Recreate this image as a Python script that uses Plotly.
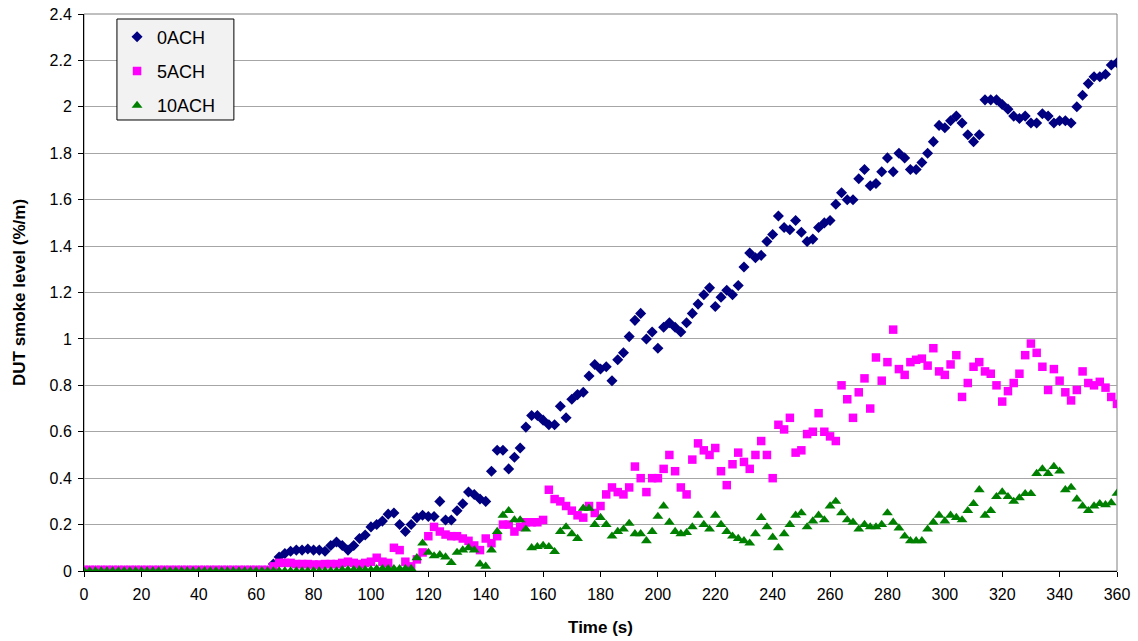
import plotly.graph_objects as go

# time axis (s), sampled every 2 s
time_s = list(range(0, 361, 2))

ach0 = [0.0, 0.0, 0.0, 0.0, 0.0, 0.0, 0.0, 0.0, 0.0, 0.0, 0.0,
        0.0, 0.0, 0.0, 0.0, 0.0, 0.0, 0.0, 0.0, 0.0, 0.0, 0.0,
        0.0, 0.0, 0.0, 0.0, 0.0, 0.0, 0.0, 0.0, 0.0, 0.0, 0.0,
        0.03, 0.06, 0.075, 0.085, 0.09, 0.09, 0.095, 0.09, 0.09, 0.085,
        0.11, 0.125, 0.11, 0.09, 0.11, 0.14, 0.155, 0.19, 0.2, 0.215,
        0.245, 0.25, 0.2, 0.17, 0.2, 0.23, 0.24, 0.235, 0.235, 0.3,
        0.22, 0.22, 0.26, 0.29, 0.34, 0.33, 0.31, 0.30, 0.43, 0.52,
        0.52, 0.44, 0.49, 0.53, 0.62, 0.67, 0.67, 0.65, 0.63, 0.63,
        0.71, 0.66, 0.74, 0.76, 0.77, 0.84, 0.89, 0.87, 0.88, 0.82,
        0.91, 0.94, 1.01, 1.08, 1.11, 1.0, 1.03, 0.96, 1.05, 1.07,
        1.05, 1.03, 1.07, 1.11, 1.15, 1.19, 1.22, 1.14, 1.18, 1.21,
        1.19, 1.23, 1.31, 1.37, 1.35, 1.36, 1.42, 1.45, 1.53, 1.48,
        1.47, 1.51, 1.46, 1.42, 1.43, 1.48, 1.5, 1.51, 1.58, 1.63,
        1.6, 1.6, 1.69, 1.73, 1.66, 1.67, 1.72, 1.78, 1.72, 1.8,
        1.78, 1.73, 1.73, 1.76, 1.8, 1.85, 1.92, 1.91, 1.94, 1.96,
        1.93, 1.88, 1.85, 1.88, 2.03, 2.03, 2.03, 2.01, 1.99, 1.96,
        1.95, 1.96, 1.93, 1.93, 1.97, 1.96, 1.93, 1.94, 1.94, 1.93,
        2.0, 2.05, 2.1, 2.13, 2.13, 2.14, 2.18, 2.19]

ach5 = [0.005, 0.005, 0.005, 0.005, 0.005, 0.005, 0.005, 0.005, 0.005, 0.005, 0.005,
        0.005, 0.005, 0.005, 0.005, 0.005, 0.005, 0.005, 0.005, 0.005, 0.005, 0.005,
        0.005, 0.005, 0.005, 0.005, 0.005, 0.005, 0.005, 0.005, 0.005, 0.005, 0.005,
        0.02, 0.035, 0.035, 0.035, 0.03, 0.03, 0.03, 0.028, 0.028, 0.03,
        0.03, 0.03, 0.035, 0.04, 0.035, 0.03, 0.035, 0.04, 0.057, 0.04,
        0.035, 0.1, 0.09, 0.04, 0.02, 0.05, 0.08, 0.15, 0.19, 0.17,
        0.157, 0.15, 0.15, 0.14, 0.13, 0.11, 0.09, 0.14, 0.12, 0.15,
        0.2, 0.2, 0.17, 0.19, 0.21, 0.21, 0.21, 0.22, 0.35, 0.31,
        0.30, 0.28, 0.26, 0.24, 0.23, 0.28, 0.25, 0.28, 0.33, 0.36,
        0.34, 0.33, 0.36, 0.45, 0.40, 0.34, 0.40, 0.40, 0.44, 0.50,
        0.43, 0.36, 0.33, 0.48, 0.55, 0.52, 0.50, 0.53, 0.43, 0.37,
        0.46, 0.51, 0.47, 0.44, 0.5, 0.56, 0.5, 0.40, 0.63, 0.61,
        0.66, 0.51, 0.52, 0.59, 0.6, 0.68, 0.60, 0.58, 0.56, 0.8,
        0.74, 0.66, 0.77, 0.83, 0.7, 0.92, 0.82, 0.90, 1.04, 0.87,
        0.845, 0.9, 0.91, 0.915, 0.885, 0.96, 0.86, 0.845, 0.89, 0.93,
        0.75, 0.81, 0.88, 0.9, 0.86, 0.85, 0.8, 0.73, 0.775, 0.81,
        0.85, 0.93, 0.98, 0.94, 0.88, 0.78, 0.87, 0.82, 0.77, 0.735,
        0.78, 0.86, 0.81, 0.80, 0.815, 0.79, 0.75, 0.72]

ach10 = [0.0, 0.0, 0.0, 0.0, 0.0, 0.0, 0.0, 0.0, 0.0, 0.0, 0.0,
         0.0, 0.0, 0.0, 0.0, 0.0, 0.0, 0.0, 0.0, 0.0, 0.0, 0.0,
         0.0, 0.0, 0.0, 0.0, 0.0, 0.0, 0.0, 0.0, 0.0, 0.0, 0.0,
         0.0, 0.0, 0.0, 0.0, 0.0, 0.0, 0.0, 0.0, 0.0, 0.0,
         0.0, 0.0, 0.005, 0.005, 0.005, 0.005, 0.005, 0.005, 0.01, 0.01,
         0.01, 0.01, 0.01, 0.01, 0.01, 0.057, 0.12, 0.08, 0.065, 0.07,
         0.06, 0.036, 0.08, 0.09, 0.10, 0.09, 0.03, 0.02, 0.09, 0.17,
         0.24, 0.26, 0.22, 0.22, 0.18, 0.10, 0.105, 0.11, 0.105, 0.083,
         0.17, 0.19, 0.16, 0.14, 0.27, 0.27, 0.2, 0.23, 0.2, 0.15,
         0.17, 0.18, 0.205, 0.16, 0.16, 0.13, 0.17, 0.235, 0.28, 0.21,
         0.17, 0.16, 0.165, 0.19, 0.24, 0.2, 0.18, 0.24, 0.2, 0.17,
         0.15, 0.14, 0.13, 0.12, 0.16, 0.23, 0.19, 0.145, 0.10, 0.16,
         0.2, 0.24, 0.25, 0.19, 0.215, 0.24, 0.22, 0.28, 0.3, 0.25,
         0.22, 0.21, 0.18, 0.2, 0.19, 0.19, 0.2, 0.25, 0.21, 0.185,
         0.15, 0.13, 0.13, 0.13, 0.18, 0.21, 0.24, 0.215, 0.24, 0.23,
         0.22, 0.26, 0.29, 0.35, 0.24, 0.26, 0.32, 0.34, 0.32, 0.30,
         0.315, 0.333, 0.333, 0.42, 0.44, 0.42, 0.45, 0.43, 0.35, 0.36,
         0.31, 0.28, 0.26, 0.28, 0.29, 0.285, 0.294, 0.335]

series_names = ["0ACH", "5ACH", "10ACH"]
x_ticks = list(range(0, 361, 20))
y_ticks = [0, 0.2, 0.4, 0.6, 0.8, 1, 1.2, 1.4, 1.6, 1.8, 2, 2.2, 2.4]
y_tick_text = ["0", "0.2", "0.4", "0.6", "0.8", "1", "1.2", "1.4", "1.6", "1.8", "2", "2.2", "2.4"]

FONT = "Arial, Liberation Sans, sans-serif"

fig = go.Figure()
fig.add_trace(go.Scatter(x=time_s, y=ach0, mode="markers", name=series_names[0], legendgroup="a",
                         marker=dict(symbol="diamond", size=8.5, color="#000080", line=dict(width=0))))
fig.add_trace(go.Scatter(x=time_s, y=ach5, mode="markers", name=series_names[1], legendgroup="b",
                         marker=dict(symbol="square", size=8.5, color="#FF00FF", line=dict(width=0))))
fig.add_trace(go.Scatter(x=time_s, y=ach10, mode="markers", name=series_names[2], legendgroup="c",
                         marker=dict(symbol="triangle-up", size=9.5, color="#008000", line=dict(width=0))))

fig.update_layout(
    width=1138, height=641,
    margin=dict(l=84, r=21, t=14, b=70, autoexpand=False),
    paper_bgcolor="white", plot_bgcolor="white",
    font=dict(family=FONT, size=16, color="black"),
    showlegend=True,
    legend=dict(x=0.032, y=0.992, xanchor="left", yanchor="top",
                bgcolor="rgba(0,0,0,0)", borderwidth=0,
                font=dict(size=18, family=FONT), tracegroupgap=8),
    shapes=[
        dict(type="rect", xref="paper", yref="paper", x0=0, y0=0, x1=1, y1=1,
             line=dict(color="#808080", width=1), layer="below"),
        # legend frame
        dict(type="rect", xref="paper", yref="paper",
             x0=0.0319, x1=0.1451, y0=0.8097, y1=0.9910,
             line=dict(color="black", width=1), fillcolor="#F2F2F2", layer="above"),
    ],
)
fig.update_xaxes(range=[0, 360], tickvals=x_ticks, ticks="outside", ticklen=5,
                 tickcolor="black", showline=True, linecolor="black", linewidth=1,
                 showgrid=False, zeroline=False, tickfont=dict(size=16),
                 ticklabelstandoff=4, automargin=False,
                 title=dict(text="<b>Time (s)</b>", font=dict(size=17), standoff=18))
fig.update_yaxes(range=[0, 2.4], tickvals=y_ticks, ticktext=y_tick_text, ticks="outside",
                 ticklen=5, tickcolor="black", showline=True, linecolor="black", linewidth=1,
                 showgrid=True, gridcolor="#A6A6A6", gridwidth=1, zeroline=False,
                 tickfont=dict(size=16), ticklabelstandoff=3, automargin=False,
                 title=dict(text="<b>DUT smoke level (%/m)</b>", font=dict(size=17), standoff=19))

fig.write_html("out.html")
